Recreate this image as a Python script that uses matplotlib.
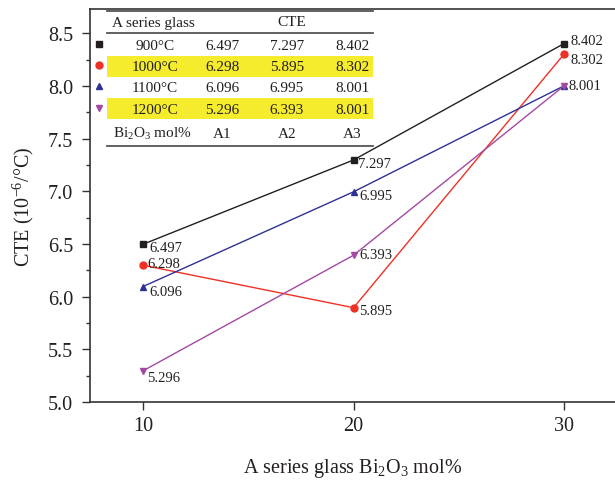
import matplotlib
matplotlib.use("Agg")
import matplotlib.pyplot as plt
from matplotlib.patches import Rectangle
from matplotlib.ticker import MultipleLocator

# ---------------------------------------------------------------------------
# Data
# ---------------------------------------------------------------------------
bi2o3_mol = [10, 20, 30]
sample_names = ["A1", "A2", "A3"]
temperatures = ["900°C", "1000°C", "1100°C", "1200°C"]
cte_900 = [6.497, 7.297, 8.402]
cte_1000 = [6.298, 5.895, 8.302]
cte_1100 = [6.096, 6.995, 8.001]
cte_1200 = [5.296, 6.393, 8.001]
y_ticks = [5.0, 5.5, 6.0, 6.5, 7.0, 7.5, 8.0, 8.5]

# styling per series
colors = ["#231f20", "#ee3124", "#2e3192", "#a349a4"]
markers = ["s", "o", "^", "v"]
# label offsets in pixels (dx right, dy down) for each point
label_offsets = [
    [(6, 3), (4, 4), (6, -3)],
    [(4, -2), (6, 3), (6, 5)],
    [(6, 5), (6, 4), (4, 0)],
    [(4, 7), (6, -1), None],
]

W, H = 615, 485
plt.rcParams["font.family"] = ["Liberation Serif", "DejaVu Serif"]
plt.rcParams["mathtext.fontset"] = "custom"
plt.rcParams["mathtext.rm"] = "Liberation Serif"
plt.rcParams["mathtext.it"] = "Liberation Serif:italic"

fig = plt.figure(figsize=(W / 100, H / 100), dpi=100)
ax = fig.add_axes([90 / W, 1 - 403 / H, 1 - 90 / W, (403 - 10) / H])

spine_col = "#333333"
for side in ["left", "bottom", "top"]:
    ax.spines[side].set_color(spine_col)
    ax.spines[side].set_linewidth(1.2)
ax.spines["right"].set_visible(False)

series = [cte_900, cte_1000, cte_1100, cte_1200]
for vals, col, mk, offs in zip(series, colors, markers, label_offsets):
    ax.plot(bi2o3_mol, vals, color=col, marker=mk, markersize=5, lw=1.0,
            clip_on=False, zorder=3)
    for x, v, off in zip(bi2o3_mol, vals, offs):
        if off is None:
            continue
        ax.annotate(f"{v:.3f}", (x, v), xytext=(off[0], -off[1]),
                    textcoords="offset pixels", ha="left", va="center",
                    fontsize=10.5, color="#231f20")

ax.set_xlim(7.48, 32.42)
ax.set_ylim(5.0, 8.73)
ax.set_xticks(bi2o3_mol)
ax.yaxis.set_minor_locator(MultipleLocator(0.25))
ax.set_yticks(y_ticks)
ax.set_yticklabels([f"{t:.1f}" for t in y_ticks])
ax.tick_params(axis="both", which="major", direction="out", length=6, width=1,
               color=spine_col, labelsize=14.5, labelcolor="#231f20")
ax.tick_params(axis="x", pad=4)
ax.tick_params(axis="y", pad=6)
ax.tick_params(axis="y", which="minor", direction="out", length=3, width=1,
               color=spine_col)
ax.tick_params(axis="x", which="minor", bottom=False)

ax.set_xlabel("A series glass Bi$_2$O$_3$ mol%", fontsize=14.5, labelpad=15,
              color="#231f20")
ax.set_ylabel("CTE (10$^{-6}$/°C)", fontsize=14.5, labelpad=9, color="#231f20")


# ---------------------------------------------------------------------------
# Inset table (drawn in figure pixel coordinates, y measured from top)
# ---------------------------------------------------------------------------
def fx(px):
    return px / W


def fy(py):
    return 1 - py / H


tbl_left, tbl_right = 107, 373
line_col = "#555555"
for py in [12, 34, 147]:
    fig.add_artist(plt.Line2D([fx(tbl_left), fx(tbl_right)], [fy(py), fy(py)],
                              color=line_col, lw=1.3))

for top, bot in [(57, 78), (99, 120)]:
    fig.add_artist(Rectangle((fx(tbl_left), fy(bot)), fx(tbl_right - tbl_left),
                             (bot - top) / H, color="#f5ec2e", lw=0, zorder=1))

txt_kw = dict(fontsize=11, color="#231f20", va="center", zorder=5)
fig.text(fx(112), fy(23), "A series glass", ha="left", **txt_kw)
fig.text(fx(292), fy(23), "CTE", ha="center", **txt_kw)

row_y = [47, 68, 89, 111]
col_x = [222, 287, 352]
for temp, vals, col, mk, py in zip(temperatures, series, colors, markers, row_y):
    fig.add_artist(plt.Line2D([fx(99)], [fy(py - 2)], marker=mk, color=col,
                              markersize=5, lw=0))
    fig.text(fx(155), fy(py), temp, ha="center", **txt_kw)
    for v, cx in zip(vals, col_x):
        fig.text(fx(cx), fy(py), f"{v:.3f}", ha="center", **txt_kw)

fig.text(fx(113), fy(134), "Bi$_2$O$_3$ mol%", ha="left", **txt_kw)
for name, cx in zip(sample_names, col_x):
    fig.text(fx(cx), fy(134), name, ha="center", **txt_kw)

fig.savefig("out.png", dpi=100)
